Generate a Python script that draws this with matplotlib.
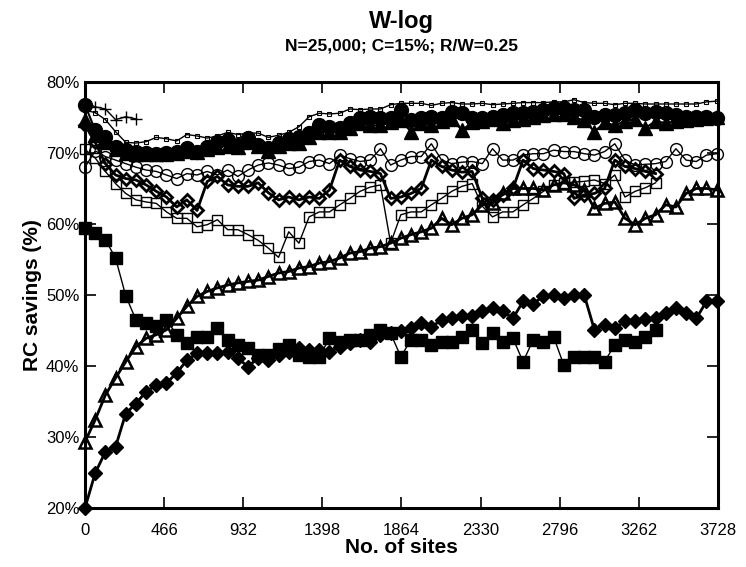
import numpy as np
import matplotlib
matplotlib.use('Agg')
import matplotlib.pyplot as plt
from matplotlib.ticker import FuncFormatter

plt.rcParams['font.family'] = ['Liberation Sans', 'DejaVu Sans']

# sampling grid: one point every 60 sites
sites = np.arange(0, 3721, 60)
x_ticks = [0, 466, 932, 1398, 1864, 2330, 2796, 3262, 3728]

dot_line = [76.0, 75.7, 74.7, 73.0, 71.5, 71.4, 71.6, 72.2, 72.0, 71.7, 72.6, 72.4, 72.1,
            72.4, 72.9, 72.6, 72.8, 72.8, 72.2, 72.5, 72.9, 73.7, 75.1, 75.6, 75.5, 75.6,
            76.2, 76.1, 76.2, 76.2, 76.8, 77.0, 77.0, 77.0, 76.7, 77.0, 77.1, 76.9, 76.9,
            77.0, 76.8, 76.9, 77.0, 77.1, 77.1, 77.1, 77.2, 77.2, 77.5, 77.1, 77.0, 77.0,
            76.8, 77.0, 77.0, 76.9, 76.9, 76.9, 76.9, 76.9, 76.9, 77.2, 77.3]

plus_line = [77.2, 76.5, 76.2, 74.7, 75.1, 74.8]

filled_circle = [76.8, 73.2, 72.3, 70.9, 70.4, 70.2, 70.0, 69.9, 70.0, 70.2, 70.7, 70.2, 70.9,
                 71.5, 71.8, 71.1, 72.1, 71.1, 70.7, 71.4, 72.0, 72.3, 72.8, 73.9, 73.7, 73.5,
                 74.2, 74.9, 75.1, 74.9, 74.9, 76.1, 74.6, 74.9, 75.1, 74.9, 75.8, 75.6, 74.9,
                 74.9, 75.1, 75.3, 75.6, 75.6, 75.8, 76.1, 76.3, 76.3, 76.1, 76.1, 75.1, 75.4,
                 75.4, 75.6, 76.1, 75.6, 75.8, 75.6, 75.4, 75.1, 75.1, 75.1, 74.9]

filled_triangle = [74.6, 72.5, 71.5, 70.5, 70.0, 69.8, 69.9, 69.9, 69.8, 70.0, 70.3, 70.2, 70.5,
                   70.9, 71.0, 70.8, 71.5, 71.0, 70.3, 71.0, 71.4, 71.4, 72.3, 73.0, 73.0, 73.0,
                   73.5, 74.2, 73.9, 73.9, 74.3, 74.6, 73.0, 74.2, 73.9, 74.5, 74.8, 73.2, 74.3,
                   74.5, 74.8, 74.2, 74.6, 74.8, 75.0, 75.3, 75.5, 75.5, 75.0, 74.6, 73.0, 74.3,
                   73.9, 74.5, 74.8, 73.5, 74.5, 74.2, 74.5, 74.6, 74.8, 74.9, 75.0]

hollow_circle = [68.0, 70.3, 69.5, 69.0, 68.5, 68.0, 67.6, 67.4, 66.9, 66.4, 67.1, 66.9, 67.4,
                 66.9, 67.6, 66.7, 67.6, 68.3, 68.6, 68.3, 67.8, 68.0, 68.8, 69.0, 68.5, 69.7,
                 69.2, 68.8, 69.0, 70.6, 68.3, 69.0, 69.5, 69.5, 71.3, 69.0, 68.5, 68.7, 68.8,
                 68.5, 70.6, 69.0, 69.0, 69.7, 69.9, 69.9, 70.4, 70.2, 70.2, 69.9, 69.7, 70.2,
                 71.3, 69.0, 68.3, 68.4, 68.5, 68.8, 70.6, 69.0, 68.8, 69.7, 69.9]

hollow_diamond = [74.0, 71.5, 68.5, 66.9, 66.4, 66.2, 65.5, 64.6, 63.8, 62.4, 63.4, 61.9, 66.0,
                  66.7, 65.5, 65.3, 65.3, 65.8, 64.4, 63.4, 63.8, 63.4, 63.8, 63.6, 64.8, 69.0,
                  68.1, 67.6, 67.4, 67.1, 63.6, 63.8, 64.3, 65.0, 69.0, 68.1, 67.6, 67.3, 67.4,
                  63.6, 63.4, 64.1, 65.0, 69.0, 67.8, 67.6, 67.4, 67.1, 63.6, 64.1, 64.3, 65.0,
                  69.0, 68.1, 67.8, 67.4, 67.1]

hollow_square = [70.5, 69.3, 67.4, 65.7, 64.3, 63.4, 63.1, 62.9, 61.7, 60.8, 60.8, 59.6, 59.9,
                 60.6, 59.2, 59.2, 58.5, 57.7, 56.6, 55.3, 58.9, 57.3, 61.0, 61.7, 61.7, 62.7,
                 63.6, 64.6, 65.2, 65.5, 57.3, 61.3, 61.7, 61.7, 62.7, 63.6, 64.6, 65.3, 65.7,
                 62.5, 61.0, 61.7, 61.7, 62.7, 63.6, 64.6, 65.5, 65.8, 65.9, 66.0, 66.2, 65.7,
                 66.9, 63.8, 64.6, 65.1, 65.8]

hollow_triangle = [29.3, 32.4, 35.9, 38.3, 40.6, 42.7, 43.9, 44.4, 45.1, 46.7, 48.4, 49.8, 50.5,
                   51.0, 51.4, 51.7, 51.9, 52.1, 52.6, 53.1, 53.3, 53.8, 54.0, 54.5, 54.7, 55.2,
                   55.9, 56.1, 56.6, 56.8, 57.3, 58.0, 58.5, 58.9, 59.4, 60.8, 59.9, 60.8, 61.3,
                   62.7, 62.9, 64.3, 65.0, 65.0, 65.0, 64.8, 65.5, 65.8, 65.5, 64.8, 62.2, 62.9,
                   63.1, 60.8, 59.9, 60.8, 61.3, 62.7, 62.4, 64.3, 65.0, 65.0, 64.8]

filled_square = [59.4, 58.7, 57.8, 55.2, 49.9, 46.5, 46.1, 45.6, 46.5, 44.4, 43.3, 44.1, 44.1,
                 45.3, 43.7, 43.0, 42.5, 41.5, 41.5, 42.4, 43.0, 41.5, 41.3, 41.3, 43.9, 43.4,
                 43.7, 43.7, 44.4, 45.1, 44.6, 41.3, 43.7, 43.7, 43.0, 43.4, 43.4, 44.1, 45.1,
                 43.2, 44.6, 43.4, 43.9, 40.6, 43.7, 43.4, 44.1, 40.1, 41.3, 41.3, 41.3, 40.6,
                 43.0, 43.7, 43.4, 44.1, 45.1]

filled_diamond = [20.0, 24.9, 27.9, 28.6, 33.3, 34.7, 36.4, 37.3, 37.6, 39.0, 40.8, 41.8, 41.8,
                  41.8, 42.0, 41.1, 39.9, 41.1, 40.8, 41.5, 42.0, 42.5, 42.3, 42.3, 42.0, 42.7,
                  43.2, 43.7, 43.4, 44.4, 44.6, 44.9, 45.3, 46.0, 45.5, 46.5, 46.7, 47.0, 47.0,
                  47.7, 48.2, 47.7, 46.7, 49.1, 48.8, 49.8, 50.0, 49.6, 50.0, 50.0, 45.1, 45.8,
                  45.3, 46.3, 46.3, 46.6, 46.7, 47.4, 48.2, 47.4, 46.7, 49.1, 49.1]

fig = plt.figure(figsize=(7.46, 5.67), dpi=100)
ax = fig.add_axes([0.1139, 0.1041, 0.8486, 0.7513])


def draw(y, marker, ms, lw, filled, mew=1.0):
    n = len(y)
    ax.plot(sites[:n], y, color='black', lw=lw, marker=marker, markersize=ms,
            markerfacecolor='black' if filled else 'none', markeredgecolor='black',
            markeredgewidth=mew, clip_on=False)


draw(filled_diamond, 'D', 7.5, 2.0, True)
draw(filled_square, 's', 8.5, 1.0, True)
draw(hollow_triangle, '^', 8, 2.0, False, 1.8)
draw(hollow_square, 's', 6.5, 1.0, False, 1.0)
draw(hollow_diamond, 'D', 6.5, 2.0, False, 2.0)
draw(hollow_circle, 'o', 8.5, 1.0, False, 1.0)
draw(filled_triangle, '^', 10, 1.5, True)
draw(filled_circle, 'o', 10, 1.5, True)
draw(plus_line, '+', 9, 1.0, False, 1.0)
draw(dot_line, 's', 2.5, 1.0, False, 0.8)

ax.set_xlim(0, 3728)
ax.set_ylim(20, 80)
ax.set_xticks(x_ticks)
ax.set_yticks(range(20, 81, 10))
ax.yaxis.set_major_formatter(FuncFormatter(lambda v, _: '%d%%' % v))
ax.tick_params(direction='in', length=8, width=1.2, labelsize=12,
               top=True, right=True)
ax.tick_params(axis='x', pad=11)
ax.tick_params(axis='y', pad=4)
for s in ax.spines.values():
    s.set_linewidth(2.2)

ax.set_xlabel('No. of sites', fontsize=15, fontweight='bold', labelpad=0)
ax.set_ylabel('RC savings (%)', fontsize=15, fontweight='bold', labelpad=3)
fig.text(0.5377, 0.962, 'W-log', ha='center', va='center', fontsize=17, fontweight='bold')
fig.text(0.5377, 0.918, 'N=25,000; C=15%; R/W=0.25', ha='center', va='center',
         fontsize=12.5, fontweight='bold')

fig.savefig('out.png', dpi=100)
